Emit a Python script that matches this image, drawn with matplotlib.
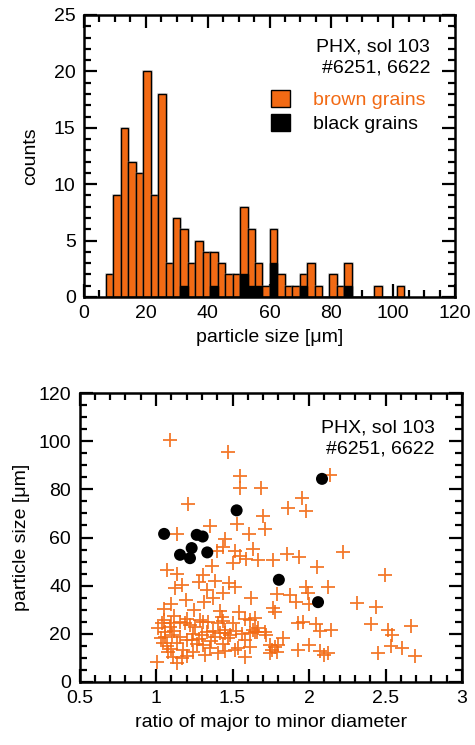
import matplotlib
matplotlib.use("Agg")
import matplotlib.pyplot as plt
from matplotlib.patches import Patch
from matplotlib.ticker import MultipleLocator
import matplotlib.patheffects as pe

plt.rcParams['font.family'] = ['Liberation Sans', 'DejaVu Sans']
plt.rcParams['font.size'] = 14

# ---------------- data ----------------
bin_start = 7.1
bin_width = 2.41
brown_counts = [2, 9, 15, 12, 11, 20, 9, 18, 3, 7,
                6, 3, 5, 4, 4, 3, 2, 2, 8, 6,
                3, 1, 6, 2, 1, 1, 2, 3, 1, 0,
                2, 1, 3, 0, 0, 0, 1, 0, 0, 1]
black_counts = [0, 0, 0, 0, 0, 0, 0, 0, 0, 0,
                1, 0, 0, 0, 1, 0, 0, 0, 2, 1,
                1, 0, 3, 0, 0, 0, 1, 0, 0, 0,
                0, 0, 1, 0, 0, 0, 0, 0, 0, 0]

brown_ratio = [1.092, 1.470, 1.546, 1.550, 1.685, 2.137, 1.206, 1.957, 1.865, 1.978,
               1.700, 1.711, 1.530, 1.355, 1.609, 1.450, 1.140, 1.435, 1.396, 1.516,
               1.635, 1.548, 1.590, 1.668, 1.766, 1.853, 1.935, 2.222, 1.505, 1.364,
               1.070, 1.135, 1.309, 1.124, 1.168, 1.385, 1.475, 1.515, 1.335, 1.440,
               1.195, 1.315, 1.792, 1.874, 1.918, 1.983, 1.994, 2.124, 2.055, 2.494,
               2.000, 2.312, 2.438, 1.765, 1.776, 1.053, 1.540, 1.614, 2.407, 2.516,
               2.543, 2.668, 1.929, 1.961, 2.043, 2.070, 2.143, 2.000, 1.931, 2.070,
               2.095, 2.125, 2.450, 2.536, 2.608, 2.690, 1.668, 1.711, 1.646, 1.744,
               1.777, 1.798, 1.755, 1.744, 1.788, 1.646, 1.015, 1.037, 1.059, 1.048,
               1.081, 1.113, 1.135, 1.005, 1.157, 1.190, 1.200, 1.233, 1.244, 1.178,
               1.287, 1.309, 1.331, 1.309, 1.353, 1.385, 1.407, 1.418, 1.407, 1.429,
               1.450, 1.483, 1.516, 1.537, 1.614, 1.635, 1.657, 1.614, 1.222, 1.255,
               1.092, 1.103, 1.135, 1.168,
               1.030, 1.160, 1.280, 1.360, 1.470, 1.580, 1.830,
               1.060, 1.120, 1.240, 1.300, 1.370, 1.450, 1.520, 1.560, 1.720,
               1.050, 1.100, 1.200, 1.340, 1.440, 1.500, 1.580,
               1.200, 1.320, 1.580, 1.100, 1.450, 1.070, 1.270, 1.440,
               1.120, 1.250, 1.420, 1.100, 1.370, 1.620, 1.280]
brown_size = [100.7, 95.5, 85.7, 80.7, 80.7, 86.1, 73.8, 76.5, 72.2, 71.0,
              69.0, 63.5, 65.8, 64.6, 61.4, 59.5, 61.6, 56.0, 54.2, 54.2,
              55.2, 52.1, 51.2, 50.7, 50.8, 53.0, 52.0, 53.9, 49.3, 48.0,
              46.6, 45.0, 44.5, 38.9, 40.3, 42.0, 41.0, 39.5, 38.0, 36.8,
              34.0, 33.3, 36.5, 36.0, 33.0, 39.2, 36.8, 39.6, 47.7, 44.3,
              32.4, 32.6, 30.9, 30.6, 29.2, 30.3, 29.2, 25.7, 24.0, 21.4,
              19.5, 23.0, 24.4, 24.8, 24.2, 21.2, 21.5, 15.1, 13.2, 12.6,
              11.3, 12.0, 12.1, 14.8, 14.2, 10.6, 22.2, 20.8, 20.8, 15.3,
              14.6, 15.3, 13.2, 11.8, 12.5, 26.4, 22.2, 24.3, 18.8, 16.0,
              12.5, 10.4, 7.7, 8.3, 25.0, 24.3, 17.4, 17.4, 12.5, 13.2,
              25.7, 25.0, 20.8, 15.3, 13.9, 18.8, 24.3, 20.2, 11.8, 27.1,
              21.5, 19.5, 13.2, 13.9, 20.2, 21.5, 20.8, 14.6, 23.6, 22.9,
              22.9, 19.5, 16.0, 9.8,
              18.0, 18.5, 17.8, 17.0, 18.2, 17.5, 18.0,
              20.5, 21.0, 20.0, 19.6, 21.0, 20.3, 20.9, 19.8, 19.6,
              25.5, 24.5, 26.0, 24.8, 25.2, 24.6, 25.9,
              10.5, 11.0, 10.2, 13.5, 12.8, 15.0, 15.8, 15.5,
              27.5, 30.0, 29.5, 32.5, 34.8, 35.0, 41.5]

black_ratio = [1.053, 1.157, 1.222, 1.233, 1.266, 1.305, 1.335, 1.527, 1.803, 2.059, 2.085]
black_size = [61.5, 52.8, 51.4, 55.6, 61.1, 60.4, 53.8, 71.3, 42.4, 33.1, 84.4]

header = "PHX, sol 103\n#6251, 6622"
ORANGE = '#F26A14'

# ---------------- figure ----------------
fig = plt.figure(figsize=(4.75, 7.45), dpi=100)
ax1 = fig.add_axes([84/475, 1-297/745, 371/475, 282/745])
ax2 = fig.add_axes([79.5/475, 1-681.7/745, 382.5/475, 288.4/745])

def style(ax):
    for s in ax.spines.values():
        s.set_linewidth(1.8)
    ax.tick_params(which='both', direction='in', top=True, right=True,
                   width=1.6, labelsize=14)
    ax.tick_params(which='major', length=9.5, pad=6)
    ax.tick_params(which='minor', length=5)

# histogram
lefts = [bin_start + i*bin_width for i in range(len(brown_counts))]
halo = [pe.Stroke(linewidth=2.0, foreground='#888888', alpha=0.35), pe.Normal()]
bars = ax1.bar(lefts, brown_counts, width=bin_width, align='edge',
               color=ORANGE, edgecolor='black', linewidth=1.0, zorder=2)
for b in bars:
    b.set_path_effects(halo)
bars2 = ax1.bar(lefts, black_counts, width=bin_width, align='edge',
                color='black', edgecolor='black', linewidth=1.0, zorder=3)
ax1.set_xlim(0, 120)
ax1.set_ylim(0, 25)
ax1.xaxis.set_major_locator(MultipleLocator(20))
ax1.xaxis.set_minor_locator(MultipleLocator(5))
ax1.yaxis.set_major_locator(MultipleLocator(5))
ax1.yaxis.set_minor_locator(MultipleLocator(1))
style(ax1)
ax1.set_xlabel('particle size [μm]', fontsize=14, labelpad=5)
ax1.set_ylabel('counts', fontsize=14, labelpad=11)
ax1.text(0.933, 0.915, header, transform=ax1.transAxes, ha='right', va='top',
         multialignment='right', fontsize=14, linespacing=1.3)
handles = [Patch(facecolor=ORANGE, edgecolor='black', linewidth=1.0),
           Patch(facecolor='black', edgecolor='black')]
leg = ax1.legend(handles, ['brown grains', 'black grains'], loc='upper left',
                 bbox_to_anchor=(0.505, 0.735), frameon=False, fontsize=14,
                 handlelength=0.95, handleheight=0.95, handletextpad=1.2,
                 labelspacing=0.28, borderpad=0, borderaxespad=0)
leg.get_texts()[0].set_color(ORANGE)

# scatter
ax2.scatter(brown_ratio, brown_size, marker='+', s=105, color=ORANGE,
            linewidths=1.3, alpha=0.9, zorder=2)
ax2.scatter(black_ratio, black_size, marker='o', s=75, color='black',
            edgecolors='none', zorder=3)
ax2.set_xlim(0.5, 3)
ax2.set_ylim(0, 120)
ax2.set_xticks([0.5, 1, 1.5, 2, 2.5, 3])
ax2.set_xticklabels(['0.5', '1', '1.5', '2', '2.5', '3'])
ax2.xaxis.set_minor_locator(MultipleLocator(0.1))
ax2.yaxis.set_major_locator(MultipleLocator(20))
ax2.yaxis.set_minor_locator(MultipleLocator(5))
style(ax2)
ax2.set_xlabel('ratio of major to minor diameter', fontsize=14, labelpad=5)
ax2.set_ylabel('particle size [μm]', fontsize=14, labelpad=6)
ax2.text(0.929, 0.91, header, transform=ax2.transAxes, ha='right', va='top',
         multialignment='right', fontsize=14, linespacing=1.3)

fig.savefig('out.png', dpi=100)
